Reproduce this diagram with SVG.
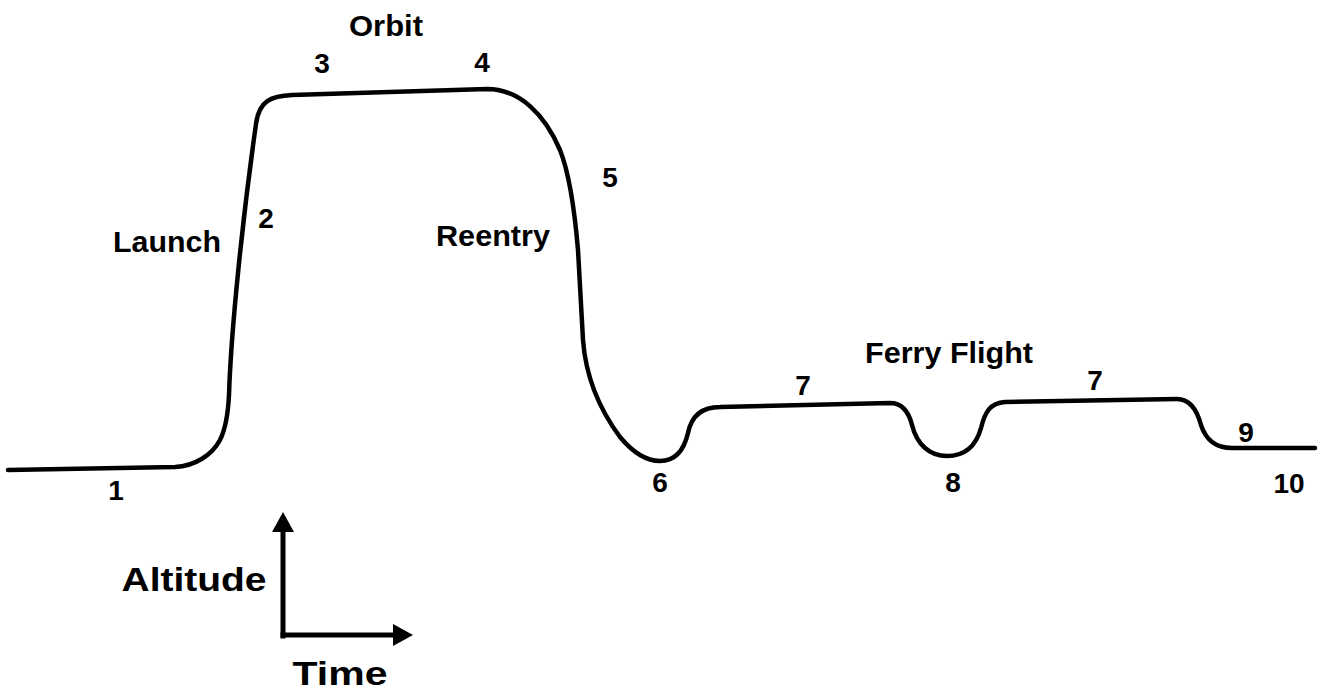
<svg xmlns="http://www.w3.org/2000/svg" width="1321" height="694" viewBox="0 0 1321 694">
<style>
.lbl{font-family:"Liberation Sans",Arial,sans-serif;font-weight:bold;font-size:29px;fill:#000;text-anchor:middle}
.num{font-size:28px}
.big{font-size:34px}
.line{fill:none;stroke:#000;stroke-width:4.5;stroke-linecap:round;stroke-linejoin:round}
.axis{fill:none;stroke:#000;stroke-width:5;stroke-linecap:square}
</style>
<defs>
<marker id="ah" viewBox="0 0 20 22" markerWidth="20" markerHeight="22" refX="1" refY="11" markerUnits="userSpaceOnUse" orient="auto">
<path d="M0 0 L20 11 L0 22 Z" fill="#000"/>
</marker>
</defs>
<rect width="1321" height="694" fill="#fff"/>
<g id="connectors">
<path id="profile" class="line" d="M 8 470 L 175 467 C 195 466, 212 455, 220 440 C 226 428, 228 415, 229 395 C 231 330, 243 215, 256 124 C 259 100, 272 96, 292 95 L 487 89 C 520 89, 545 115, 560 150 C 570 175, 575 215, 578 250 L 583 340 C 586 380, 600 410, 620 437 C 635 455, 648 461, 660 461 C 675 461, 684 450, 688 433 C 691 418, 700 407, 720 407 L 890 403 C 903 403, 909 413, 912 425 C 917 445, 930 456, 947 456 C 965 456, 976 446, 981 428 C 985 412, 990 403, 1005 402 L 1177 399 C 1190 399, 1197 410, 1201 425 C 1206 440, 1215 448, 1232 448 L 1315 448"/>
<path id="axis-alt" class="axis" d="M 283 636 L 283 531" marker-end="url(#ah)"/>
<path id="axis-time" class="axis" d="M 283 635 L 394 635" marker-end="url(#ah)"/>
</g>
<g id="label-orbit"><text class="lbl" x="386" y="36" textLength="74" lengthAdjust="spacingAndGlyphs">Orbit</text></g>
<g id="label-launch"><text class="lbl" x="167" y="252" textLength="108" lengthAdjust="spacingAndGlyphs">Launch</text></g>
<g id="label-reentry"><text class="lbl" x="493" y="246" textLength="114" lengthAdjust="spacingAndGlyphs">Reentry</text></g>
<g id="label-ferry"><text class="lbl" x="949" y="363" textLength="168" lengthAdjust="spacingAndGlyphs">Ferry Flight</text></g>
<g id="pt-1"><text class="lbl num" x="116" y="500">1</text></g>
<g id="pt-2"><text class="lbl num" x="266" y="228">2</text></g>
<g id="pt-3"><text class="lbl num" x="322" y="73">3</text></g>
<g id="pt-4"><text class="lbl num" x="482" y="72">4</text></g>
<g id="pt-5"><text class="lbl num" x="610" y="187">5</text></g>
<g id="pt-6"><text class="lbl num" x="660" y="492">6</text></g>
<g id="pt-7a"><text class="lbl num" x="803" y="395">7</text></g>
<g id="pt-8"><text class="lbl num" x="953" y="492">8</text></g>
<g id="pt-7b"><text class="lbl num" x="1095" y="390">7</text></g>
<g id="pt-9"><text class="lbl num" x="1246" y="442">9</text></g>
<g id="pt-10"><text class="lbl num" x="1289" y="493">10</text></g>
<g id="label-altitude"><text class="lbl big" x="194" y="591" textLength="145" lengthAdjust="spacingAndGlyphs">Altitude</text></g>
<g id="label-time"><text class="lbl big" x="340" y="685" textLength="95" lengthAdjust="spacingAndGlyphs">Time</text></g>
</svg>
